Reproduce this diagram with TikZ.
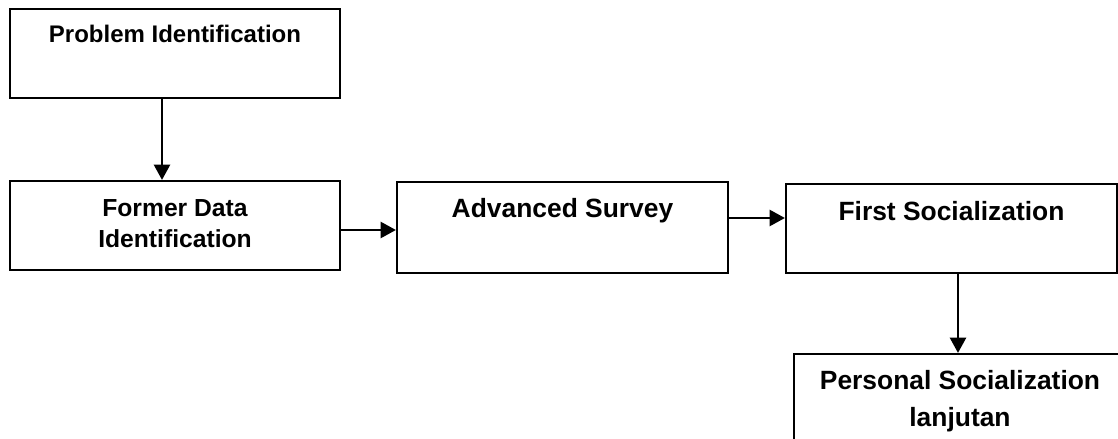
\documentclass[tikz,border=0pt]{standalone}
\usepackage{fontspec}
\setmainfont{Liberation Sans}
\usetikzlibrary{arrows.meta,calc,fit}
\begin{document}
\begin{tikzpicture}[x=0.75pt,y=-0.75pt,
  box/.style={draw=black, line width=1.6pt, inner sep=0pt},
  lbl/.style={anchor=base, font=\bfseries\fontsize{#1}{#1}\selectfont, inner sep=0pt},
  arr/.style={line width=2pt, -{Triangle[length=11.5pt,width=12pt]}}]
\clip (0,0) rectangle (1118,439);
\fill[white] (0,0) rectangle (1118,439);
% boxes
\node[box, fit={(10,9) (340,98)}] (b1) {};
\node[box, fit={(10,181) (340,270)}] (b2) {};
\node[box, fit={(397,182) (728,273)}] (b3) {};
\node[box, fit={(786,184) (1117,273)}] (b4) {};
\node[box, fit={(794,354) (1126,446)}] (b5) {};
% texts
\node[lbl=18pt] (t1) at (175,42) {Problem Identification};
\node[lbl=18.5pt] (t2a) at (175,216) {Former Data};
\node[lbl=18.5pt] (t2b) at (175,247) {Identification};
\node[lbl=19.8pt] (t3) at (562.5,217) {Advanced Survey};
\node[lbl=19.8pt] (t4) at (951.5,220) {First Socialization};
\node[lbl=19.8pt] (t5a) at (960,389) {Personal Socialization};
\node[lbl=19.8pt] (t5b) at (960,426) {lanjutan};
% connectors
\draw[arr] ($(b1.south)+(-13,0)$) coordinate (p1) -- (p1 |- b2.north);
\draw[arr] ($(b2.east)+(0,4.5)$) coordinate (p2) -- (p2 -| b3.west);
\draw[arr] ($(b3.east)+(0,-9.5)$) coordinate (p3) -- (p3 -| b4.west);
\draw[arr] ($(b4.south)+(6.5,0)$) coordinate (p4) -- (p4 |- b5.north);
\end{tikzpicture}
\end{document}
